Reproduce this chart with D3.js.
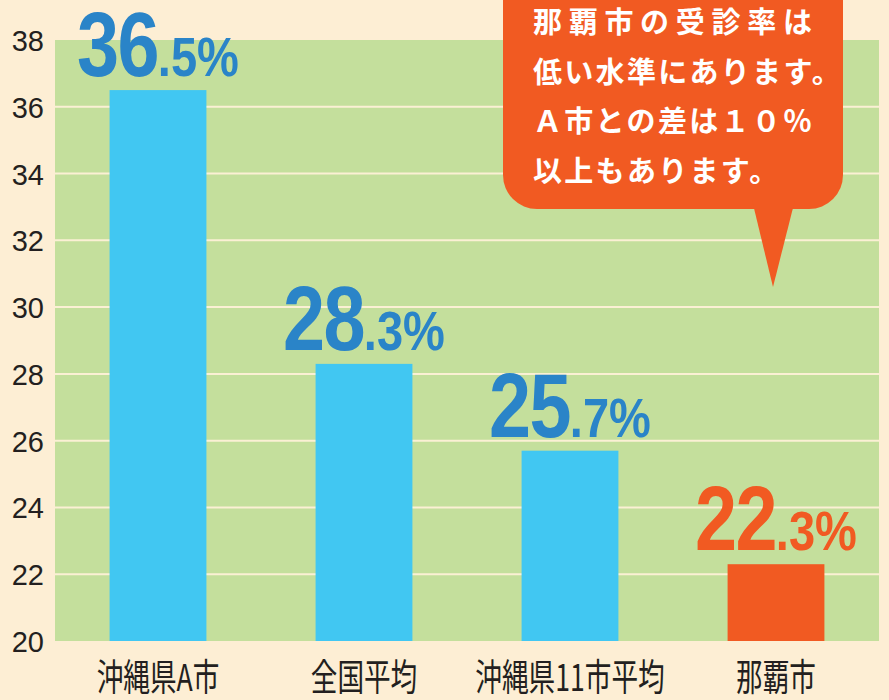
<!DOCTYPE html>
<html>
<meta charset="utf-8">
<script src="https://d3js.org/d3.v7.min.js"></script>
<style>
  body { margin: 0; background: #fdeed4; }
  svg { display: block; }
</style>
<body>
<div id="vis"></div>
<script>
  // data
  const categories = ["沖縄県A市", "全国平均", "沖縄県11市平均", "那覇市"];
  const rates = [36.5, 28.3, 25.7, 22.3];
  const highlightCategory = "那覇市";
  const yTicks = [20, 22, 24, 26, 28, 30, 32, 34, 36, 38];
  const bubbleLines = ["那覇市の受診率は", "低い水準にあります。", "Ａ市との差は１０％", "以上もあります。"];

  const total_width = 889, total_height = 700;
  const margin = {top: 40, right: 10, bottom: 59, left: 55};
  const width = total_width - margin.left - margin.right,
        height = total_height - margin.top - margin.bottom;

  const blue = "#41c7f2", orange = "#f15a22", blueText = "#2a84c8";

  const svg = d3.select("#vis").append("svg")
      .attr("width", total_width)
      .attr("height", total_height);

  svg.append("rect")
      .attr("width", total_width).attr("height", total_height)
      .attr("fill", "#fdeed4");

  const g = svg.append("g")
      .attr("transform", `translate(${margin.left},${margin.top})`);

  // plot background
  g.append("rect")
      .attr("width", width).attr("height", height)
      .attr("fill", "#c4df9c");

  const x = d3.scaleBand()
      .domain(categories)
      .range([0, width])
      .paddingInner(0.53)
      .paddingOuter(0.265);

  const y = d3.scaleLinear()
      .domain([20, 38])
      .range([height, 0]);

  // grid lines
  g.append("g")
    .selectAll("line")
    .data(yTicks.filter(t => t > 20 && t < 38))
    .join("line")
      .attr("x1", 0).attr("x2", width)
      .attr("y1", d => y(d)).attr("y2", d => y(d))
      .attr("stroke", "#fbf0d4")
      .attr("stroke-width", 2);

  // y axis
  const yAxis = g.append("g")
      .call(d3.axisLeft(y).tickValues(yTicks).tickSize(0).tickPadding(11));
  yAxis.select(".domain").remove();
  yAxis.selectAll("text")
      .attr("dy", "0.36em")
      .style("font-family", "'Liberation Sans', Arial, sans-serif")
      .style("font-size", "29px")
      .style("fill", "#231f20");

  // bars
  g.append("g")
    .selectAll("rect")
    .data(categories)
    .join("rect")
      .attr("x", d => x(d))
      .attr("y", (d, i) => y(rates[i]))
      .attr("width", x.bandwidth())
      .attr("height", (d, i) => height - y(rates[i]))
      .attr("fill", d => d === highlightCategory ? orange : blue);

  // value labels
  const labels = g.append("g")
    .selectAll("text")
    .data(categories)
    .join("text")
      .attr("transform", (d, i) => `translate(${x(d) + x.bandwidth() / 2},${y(rates[i]) - 14}) scale(0.84,1)`)
      .attr("text-anchor", "middle")
      .style("font-family", "'Liberation Sans', Arial, sans-serif")
      .style("font-weight", "bold")
      .style("fill", d => d === highlightCategory ? orange : blueText);
  labels.append("tspan")
      .style("font-size", "90px")
      .style("letter-spacing", "-2px")
      .text((d, i) => String(rates[i]).split(".")[0]);
  labels.append("tspan")
      .style("font-size", "56px")
      .text((d, i) => "." + String(rates[i]).split(".")[1] + "%");

  // x labels
  g.append("g")
    .selectAll("text")
    .data(categories)
    .join("text")
      .attr("transform", d => `translate(${x(d) + x.bandwidth() / 2},${height + 50}) scale(0.72,1)`)
      .attr("text-anchor", "middle")
      .style("font-family", "'Noto Sans CJK JP', sans-serif")
      .style("font-size", "37px")
      .style("fill", "#231f20")
      .text(d => d);

  // speech bubble
  const bubble = svg.append("g");
  bubble.append("rect")
      .attr("x", 503).attr("y", -40)
      .attr("width", 340).attr("height", 249)
      .attr("rx", 34)
      .attr("fill", orange);
  bubble.append("path")
      .attr("d", "M752,200 L795,200 L773,287 Z")
      .attr("fill", orange);
  bubble.selectAll("text.note")
    .data(bubbleLines)
    .join("text")
      .attr("class", "note")
      .attr("x", 533)
      .attr("y", (d, i) => 33 + i * 49.5)
      .style("font-family", "'Noto Sans CJK JP', sans-serif")
      .style("font-weight", "bold")
      .style("font-size", "29px")
      .style("letter-spacing", (d, i) => i === 0 ? "6.7px" : "2.3px")
      .style("fill", "#ffffff")
      .text(d => d);
</script>
</body>
</html>
